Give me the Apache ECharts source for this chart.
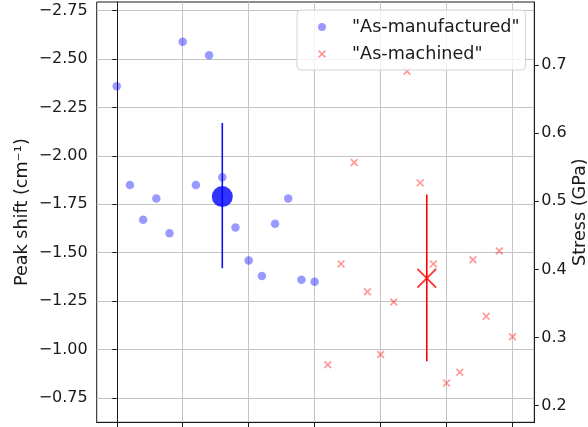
<!DOCTYPE html>
<html>
<head>
<meta charset="utf-8">
<script src="https://cdn.jsdelivr.net/npm/echarts@6/dist/echarts.min.js"></script>
<style>
  html, body { margin: 0; padding: 0; background: #fff; }
  #chart { width: 588px; height: 427px; }
</style>
</head>
<body>
<div id="chart"></div>
<script>
// Sample indices along the x axis
const manufacturedIdx = [0, 1, 2, 3, 4, 5, 6, 7, 8, 9, 10, 11, 12, 13, 14, 15];
const machinedIdx = [16, 17, 18, 19, 20, 21, 22, 23, 24, 25, 26, 27, 28, 29, 30];

// Raman peak shift of the as-manufactured samples (cm^-1)
const peakShift = [-2.36, -1.85, -1.67, -1.78, -1.60, -2.59, -1.85, -2.52,
                   -1.89, -1.63, -1.46, -1.38, -1.65, -1.78, -1.36, -1.35];

// Residual stress of the as-machined samples (GPa)
const stress = [0.260, 0.408, 0.557, 0.367, 0.275, 0.352, 0.691, 0.527,
                0.408, 0.233, 0.249, 0.414, 0.331, 0.427, 0.301];

// Group means with +/- one standard deviation
const manufacturedMean = [8, -1.79];
const manufacturedRange = [-2.17, -1.42];
const machinedMean = [23.5, 0.387];
const machinedRange = [0.265, 0.510];

// Tick positions
const xTicks = [0, 5, 10, 15, 20, 25, 30];
const shiftTicks = [-2.75, -2.5, -2.25, -2.0, -1.75, -1.5, -1.25, -1.0, -0.75];
const stressTicks = [0.2, 0.3, 0.4, 0.5, 0.6, 0.7];

const NAME_MANUF = '"As-manufactured"';
const NAME_MACH = '"As-machined"';

const FONT = 'DejaVu Sans';
const INK = '#1a1a1a';
const GRID = '#c4c4c4';

// "x" marker outline, arm thickness t on a 100-unit box
function crossPath(t) {
  const a = t, b = 50 - t, c = 50 + t, d = 100 - t;
  return 'path://M0,' + a + 'L' + a + ',0L50,' + b + 'L' + d + ',0L100,' + a +
         'L' + c + ',50L100,' + d + 'L' + d + ',100L50,' + c + 'L' + a + ',100L0,' + d +
         'L' + b + ',50Z';
}

const zip = (xs, ys) => xs.map((x, i) => [x, ys[i]]);
const minusFmt = (digits) => (v) => (v < 0 ? '\u2212' : '') + Math.abs(v).toFixed(digits);

const chart = echarts.init(document.getElementById('chart'), null, { renderer: 'canvas' });

chart.setOption({
  animation: false,
  backgroundColor: '#fff',
  textStyle: { fontFamily: FONT },
  grid: {
    left: 96.7, right: 53.7, top: 2, bottom: 4.7,
    containLabel: false,
    outerBoundsMode: 'none',
    show: true, borderColor: INK, borderWidth: 1, backgroundColor: 'transparent'
  },
  legend: {
    data: [
      { name: NAME_MANUF, icon: 'circle' },
      { name: NAME_MACH, icon: crossPath(15) }
    ],
    orient: 'vertical',
    left: 297, top: 10,
    padding: [8, 6, 7, 21],
    itemWidth: 8, itemHeight: 8,
    itemGap: 9,
    backgroundColor: 'rgba(255,255,255,0.8)',
    borderColor: '#d4d4d4', borderWidth: 1, borderRadius: 4,
    textStyle: { fontFamily: FONT, fontSize: 17.6, color: INK, padding: [0, 0, 0, 21] }
  },
  xAxis: {
    type: 'value',
    min: -1.52, max: 31.65,
    axisLine: { show: true, lineStyle: { color: INK, width: 1 } },
    axisTick: { show: true, length: 5, lineStyle: { color: INK }, customValues: xTicks },
    axisLabel: { show: false, customValues: xTicks },
    splitLine: { show: true, lineStyle: { color: GRID, width: 1 } }
  },
  yAxis: [
    {
      type: 'value',
      inverse: true,
      min: -2.795, max: -0.624,
      name: 'Peak shift (cm\u207B\u00B9)',
      nameLocation: 'middle',
      nameRotate: 90,
      nameGap: 65,
      nameMoveOverlap: false,
      nameTextStyle: { fontFamily: FONT, fontSize: 17.6, color: INK },
      axisLine: { show: true, lineStyle: { color: INK, width: 1 } },
      axisTick: { show: true, length: 4.5, lineStyle: { color: INK }, customValues: shiftTicks },
      axisLabel: {
        show: true, margin: 9, fontFamily: FONT, fontSize: 16, color: INK,
        customValues: shiftTicks, formatter: minusFmt(2)
      },
      splitLine: { show: true, lineStyle: { color: GRID, width: 1 } }
    },
    {
      type: 'value',
      position: 'right',
      min: 0.1754, max: 0.7926,
      name: 'Stress (GPa)',
      nameLocation: 'middle',
      nameRotate: 90,
      nameGap: 37,
      nameMoveOverlap: false,
      nameTextStyle: { fontFamily: FONT, fontSize: 17.6, color: INK },
      axisLine: { show: true, lineStyle: { color: INK, width: 1 } },
      axisTick: { show: true, length: 4.5, lineStyle: { color: INK }, customValues: stressTicks },
      axisLabel: {
        show: true, margin: 7, fontFamily: FONT, fontSize: 16, color: INK,
        customValues: stressTicks, formatter: minusFmt(1)
      },
      splitLine: { show: false }
    }
  ],
  series: [
    {
      name: NAME_MANUF,
      type: 'scatter',
      xAxisIndex: 0, yAxisIndex: 0,
      symbol: 'circle', symbolSize: 8.5,
      itemStyle: { color: 'rgba(0,0,255,0.5)' },
      data: zip(manufacturedIdx, peakShift),
      z: 3
    },
    {
      name: NAME_MACH,
      type: 'scatter',
      xAxisIndex: 0, yAxisIndex: 1,
      symbol: crossPath(15), symbolSize: 8,
      itemStyle: { color: 'rgba(255,0,0,0.5)' },
      data: zip(machinedIdx, stress),
      z: 3
    },
    {
      name: 'manufactured-sd',
      type: 'line',
      xAxisIndex: 0, yAxisIndex: 0,
      symbol: 'none', silent: true,
      lineStyle: { color: '#1010f0', width: 1.6 },
      data: manufacturedRange.map((v) => [manufacturedMean[0], v]),
      z: 4
    },
    {
      name: 'manufactured-mean',
      type: 'scatter',
      xAxisIndex: 0, yAxisIndex: 0,
      symbol: 'circle', symbolSize: 21,
      itemStyle: { color: '#0000ff' },
      data: [manufacturedMean],
      z: 5
    },
    {
      name: 'machined-sd',
      type: 'line',
      xAxisIndex: 0, yAxisIndex: 1,
      symbol: 'none', silent: true,
      lineStyle: { color: '#ff0000', width: 1.6 },
      data: machinedRange.map((v) => [machinedMean[0], v]),
      z: 4
    },
    {
      name: 'machined-mean',
      type: 'scatter',
      xAxisIndex: 0, yAxisIndex: 1,
      symbol: crossPath(6.5), symbolSize: 20,
      itemStyle: { color: '#ff0000' },
      data: [machinedMean],
      z: 5
    }
  ]
});
</script>
</body>
</html>
